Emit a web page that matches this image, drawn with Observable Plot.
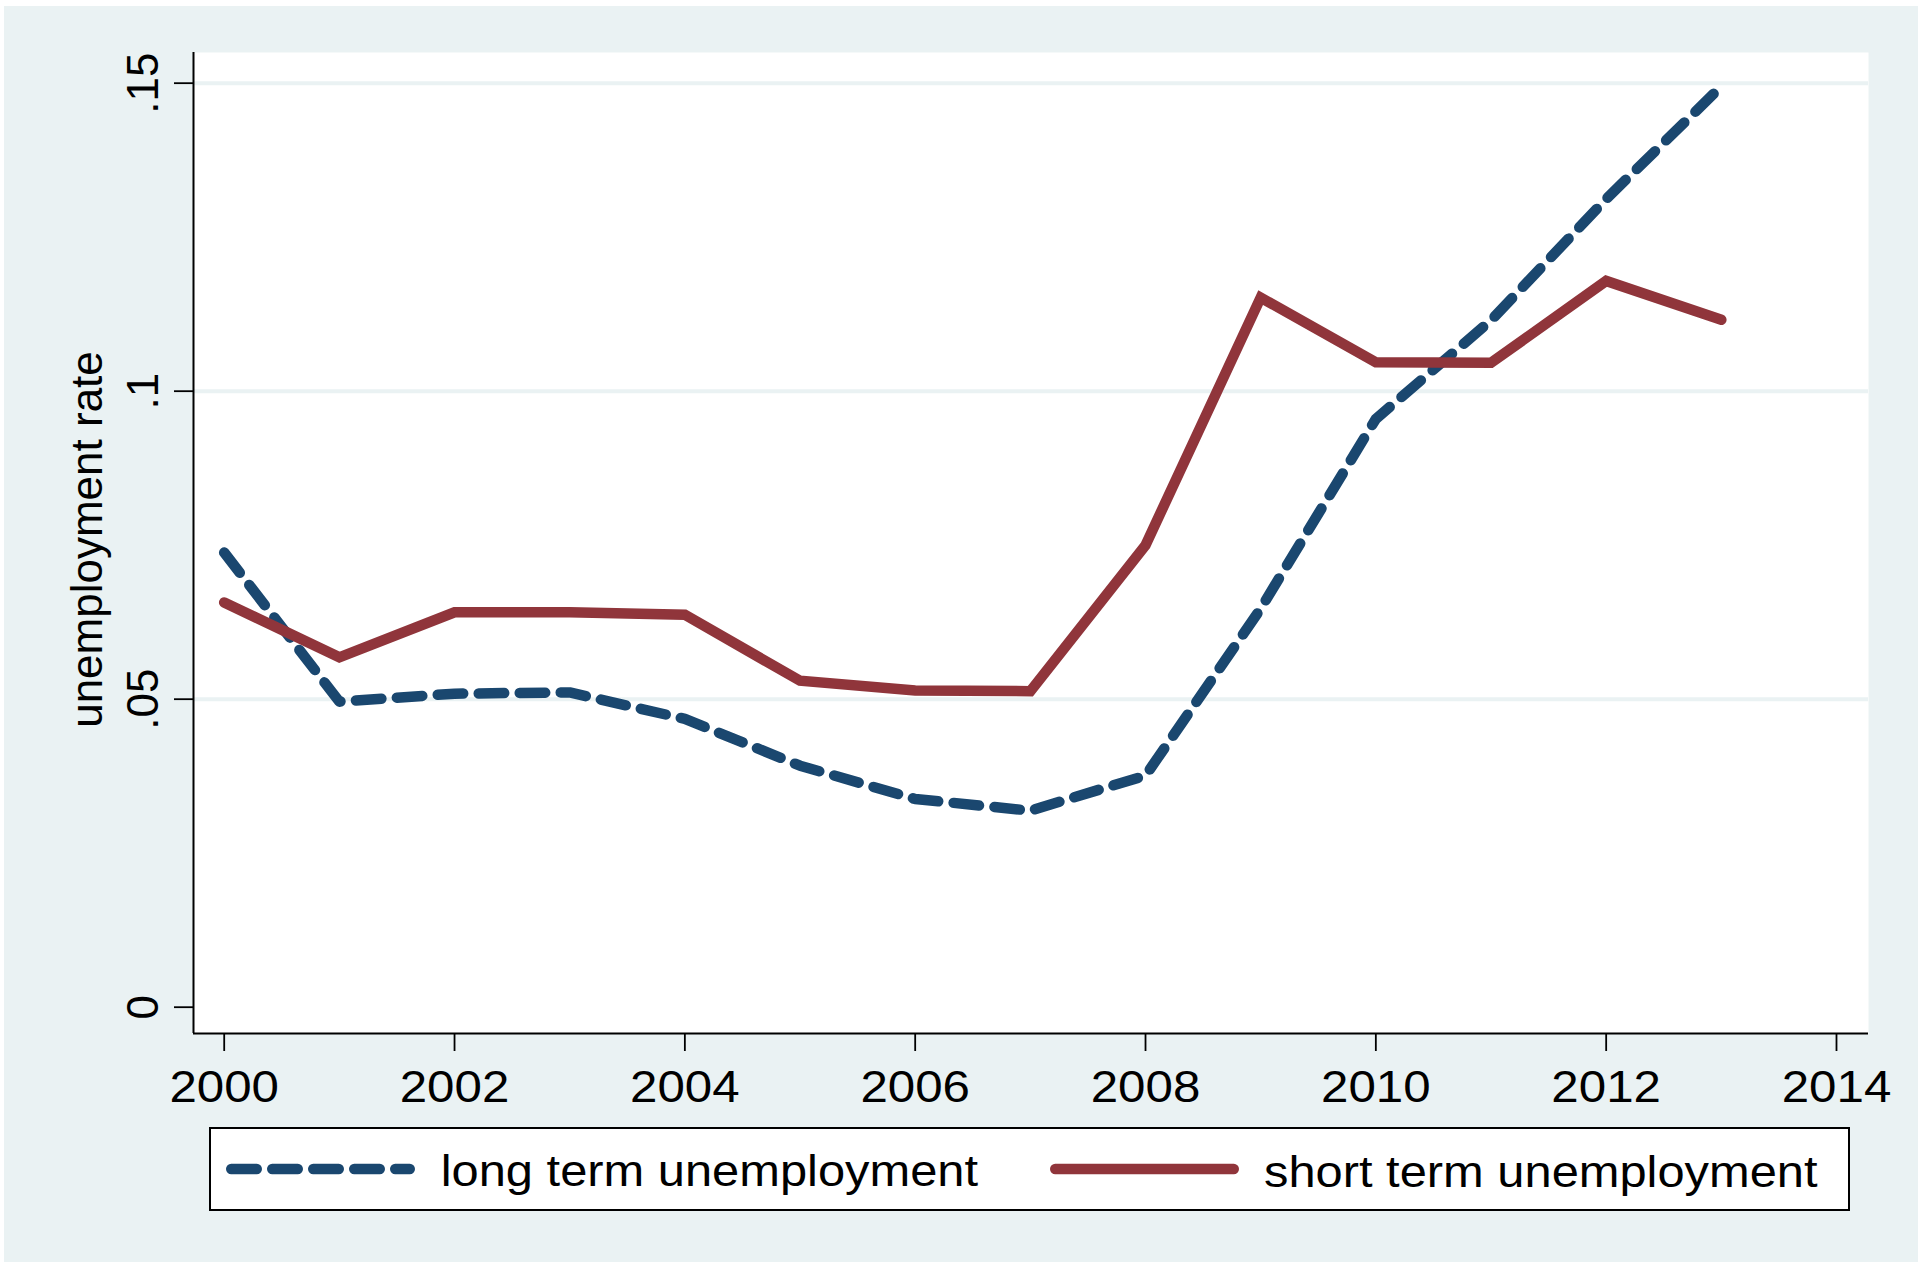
<!DOCTYPE html>
<html>
<head>
<meta charset="utf-8">
<script src="https://cdn.jsdelivr.net/npm/d3@7"></script>
<script src="https://cdn.jsdelivr.net/npm/@observablehq/plot@0.6"></script>
<style>
html, body { margin: 0; padding: 0; background: #ffffff; }
body { width: 1927px; height: 1266px; position: relative; overflow: hidden; font-family: "Liberation Sans", Arial, sans-serif; }
#bg { position: absolute; left: 4px; top: 6px; width: 1914px; height: 1256px; background: #EAF2F3; }
#chart { position: absolute; left: 0; top: 0; }
#legend { position: absolute; left: 209px; top: 1127px; width: 1641px; height: 84px; box-sizing: border-box; border: 2.5px solid #000; background: #fff; }
#legend svg { position: absolute; left: -2.5px; top: -2.5px; overflow: visible; }
</style>
</head>
<body>
<div id="bg"></div>
<div id="chart"></div>
<div id="legend"></div>
<script>
// ---- data ----
const years = [2000, 2001, 2002, 2003, 2004, 2005, 2006, 2007, 2008, 2009, 2010, 2011, 2012, 2013];
const longTerm = [0.0738, 0.0496, 0.0509, 0.0511, 0.0468, 0.0392, 0.0338, 0.0319, 0.0376, 0.0647, 0.0955, 0.1115, 0.1312, 0.1495];
const shortTerm = [0.0657, 0.0568, 0.0641, 0.0641, 0.0637, 0.0530, 0.0514, 0.0513, 0.0750, 0.1152, 0.1047, 0.1046, 0.1179, 0.1116];
const seriesNames = ["long term unemployment", "short term unemployment"];
const seriesColors = ["#1A476F", "#90353B"];
const xTicks = [2000, 2002, 2004, 2006, 2008, 2010, 2012, 2014];
const yTicks = [0, 0.05, 0.1, 0.15];
const yTickLabels = ["0", ".05", ".1", ".15"];
const yGrid = [0.05, 0.1, 0.15];
const yTitle = "unemployment rate";
const xDomain = [1999.7334, 2014.2779];
const yDomain = [-0.00427, 0.15498];

const longRows = years.map((year, i) => ({year, value: longTerm[i]}));
const shortRows = years.map((year, i) => ({year, value: shortTerm[i]}));

const FONT = "'Liberation Sans', Arial, Helvetica, sans-serif";
const DASH = "25.5,15.5";
const LW = 10.5;

const chart = Plot.plot({
  width: 1927,
  height: 1110,
  marginLeft: 193,
  marginRight: 59,
  marginTop: 52,
  marginBottom: 77,
  style: {background: "transparent", fontFamily: FONT, fontSize: "44px", color: "#000", overflow: "visible"},
  x: {domain: xDomain},
  y: {domain: yDomain},
  marks: [
    Plot.frame({fill: "white", stroke: null}),
    Plot.ruleY(yGrid, {stroke: "#EAF2F3", strokeWidth: 4}),
    Plot.axisX({ticks: xTicks, tickFormat: d => String(d), tickSize: 18, tickPadding: 19, fontSize: 44, strokeWidth: 1.8, label: null}),
    Plot.axisY({
      ticks: yTicks,
      tickFormat: d => yTickLabels[yTicks.findIndex(t => Math.abs(t - d) < 1e-9)],
      tickSize: 19, tickPadding: 17, tickRotate: -90, fontSize: 44, strokeWidth: 1.8, label: null
    }),
    Plot.ruleX([xDomain[0]], {stroke: "#000", strokeWidth: 2}),
    Plot.ruleY([yDomain[0]], {stroke: "#000", strokeWidth: 2}),
    Plot.text([yTitle], {frameAnchor: "left", text: d => d, rotate: -90, textAnchor: "middle", lineAnchor: "bottom", dx: -92, dy: -3.5, fontSize: 44}),
    Plot.line(longRows, {x: "year", y: "value", stroke: seriesColors[0], strokeWidth: LW, strokeDasharray: DASH, strokeLinecap: "round", strokeLinejoin: "round"}),
    Plot.line(shortRows, {x: "year", y: "value", stroke: seriesColors[1], strokeWidth: LW, strokeLinecap: "round", strokeLinejoin: "miter", strokeMiterlimit: 4})
  ]
});

// horizontal text in the reference is slightly wider than the font
chart.querySelectorAll('g[aria-label="x-axis tick label"] text').forEach(t => {
  t.setAttribute("transform", (t.getAttribute("transform") || "") + " scale(1.12,1)");
});
document.getElementById("chart").appendChild(chart);

// ---- legend ----
const ns = "http://www.w3.org/2000/svg";
const lg = document.createElementNS(ns, "svg");
lg.setAttribute("width", 1641);
lg.setAttribute("height", 84);
const items = [
  {x1: 22.25, x2: 200.75, tx: 231.7, ty: 59, dash: DASH},
  {x1: 846.25, x2: 1024.75, tx: 1055, ty: 60, dash: null}
];
items.forEach((it, i) => {
  const ln = document.createElementNS(ns, "line");
  ln.setAttribute("x1", it.x1); ln.setAttribute("x2", it.x2);
  ln.setAttribute("y1", 42); ln.setAttribute("y2", 42);
  ln.setAttribute("stroke", seriesColors[i]);
  ln.setAttribute("stroke-width", LW);
  ln.setAttribute("stroke-linecap", "round");
  if (it.dash) ln.setAttribute("stroke-dasharray", it.dash);
  lg.appendChild(ln);
  const tx = document.createElementNS(ns, "text");
  tx.setAttribute("transform", `translate(${it.tx},${it.ty}) scale(1.11,1)`);
  tx.setAttribute("font-family", FONT);
  tx.setAttribute("font-size", 44);
  tx.setAttribute("fill", "#000");
  tx.textContent = seriesNames[i];
  lg.appendChild(tx);
});
document.getElementById("legend").appendChild(lg);
</script>
</body>
</html>
